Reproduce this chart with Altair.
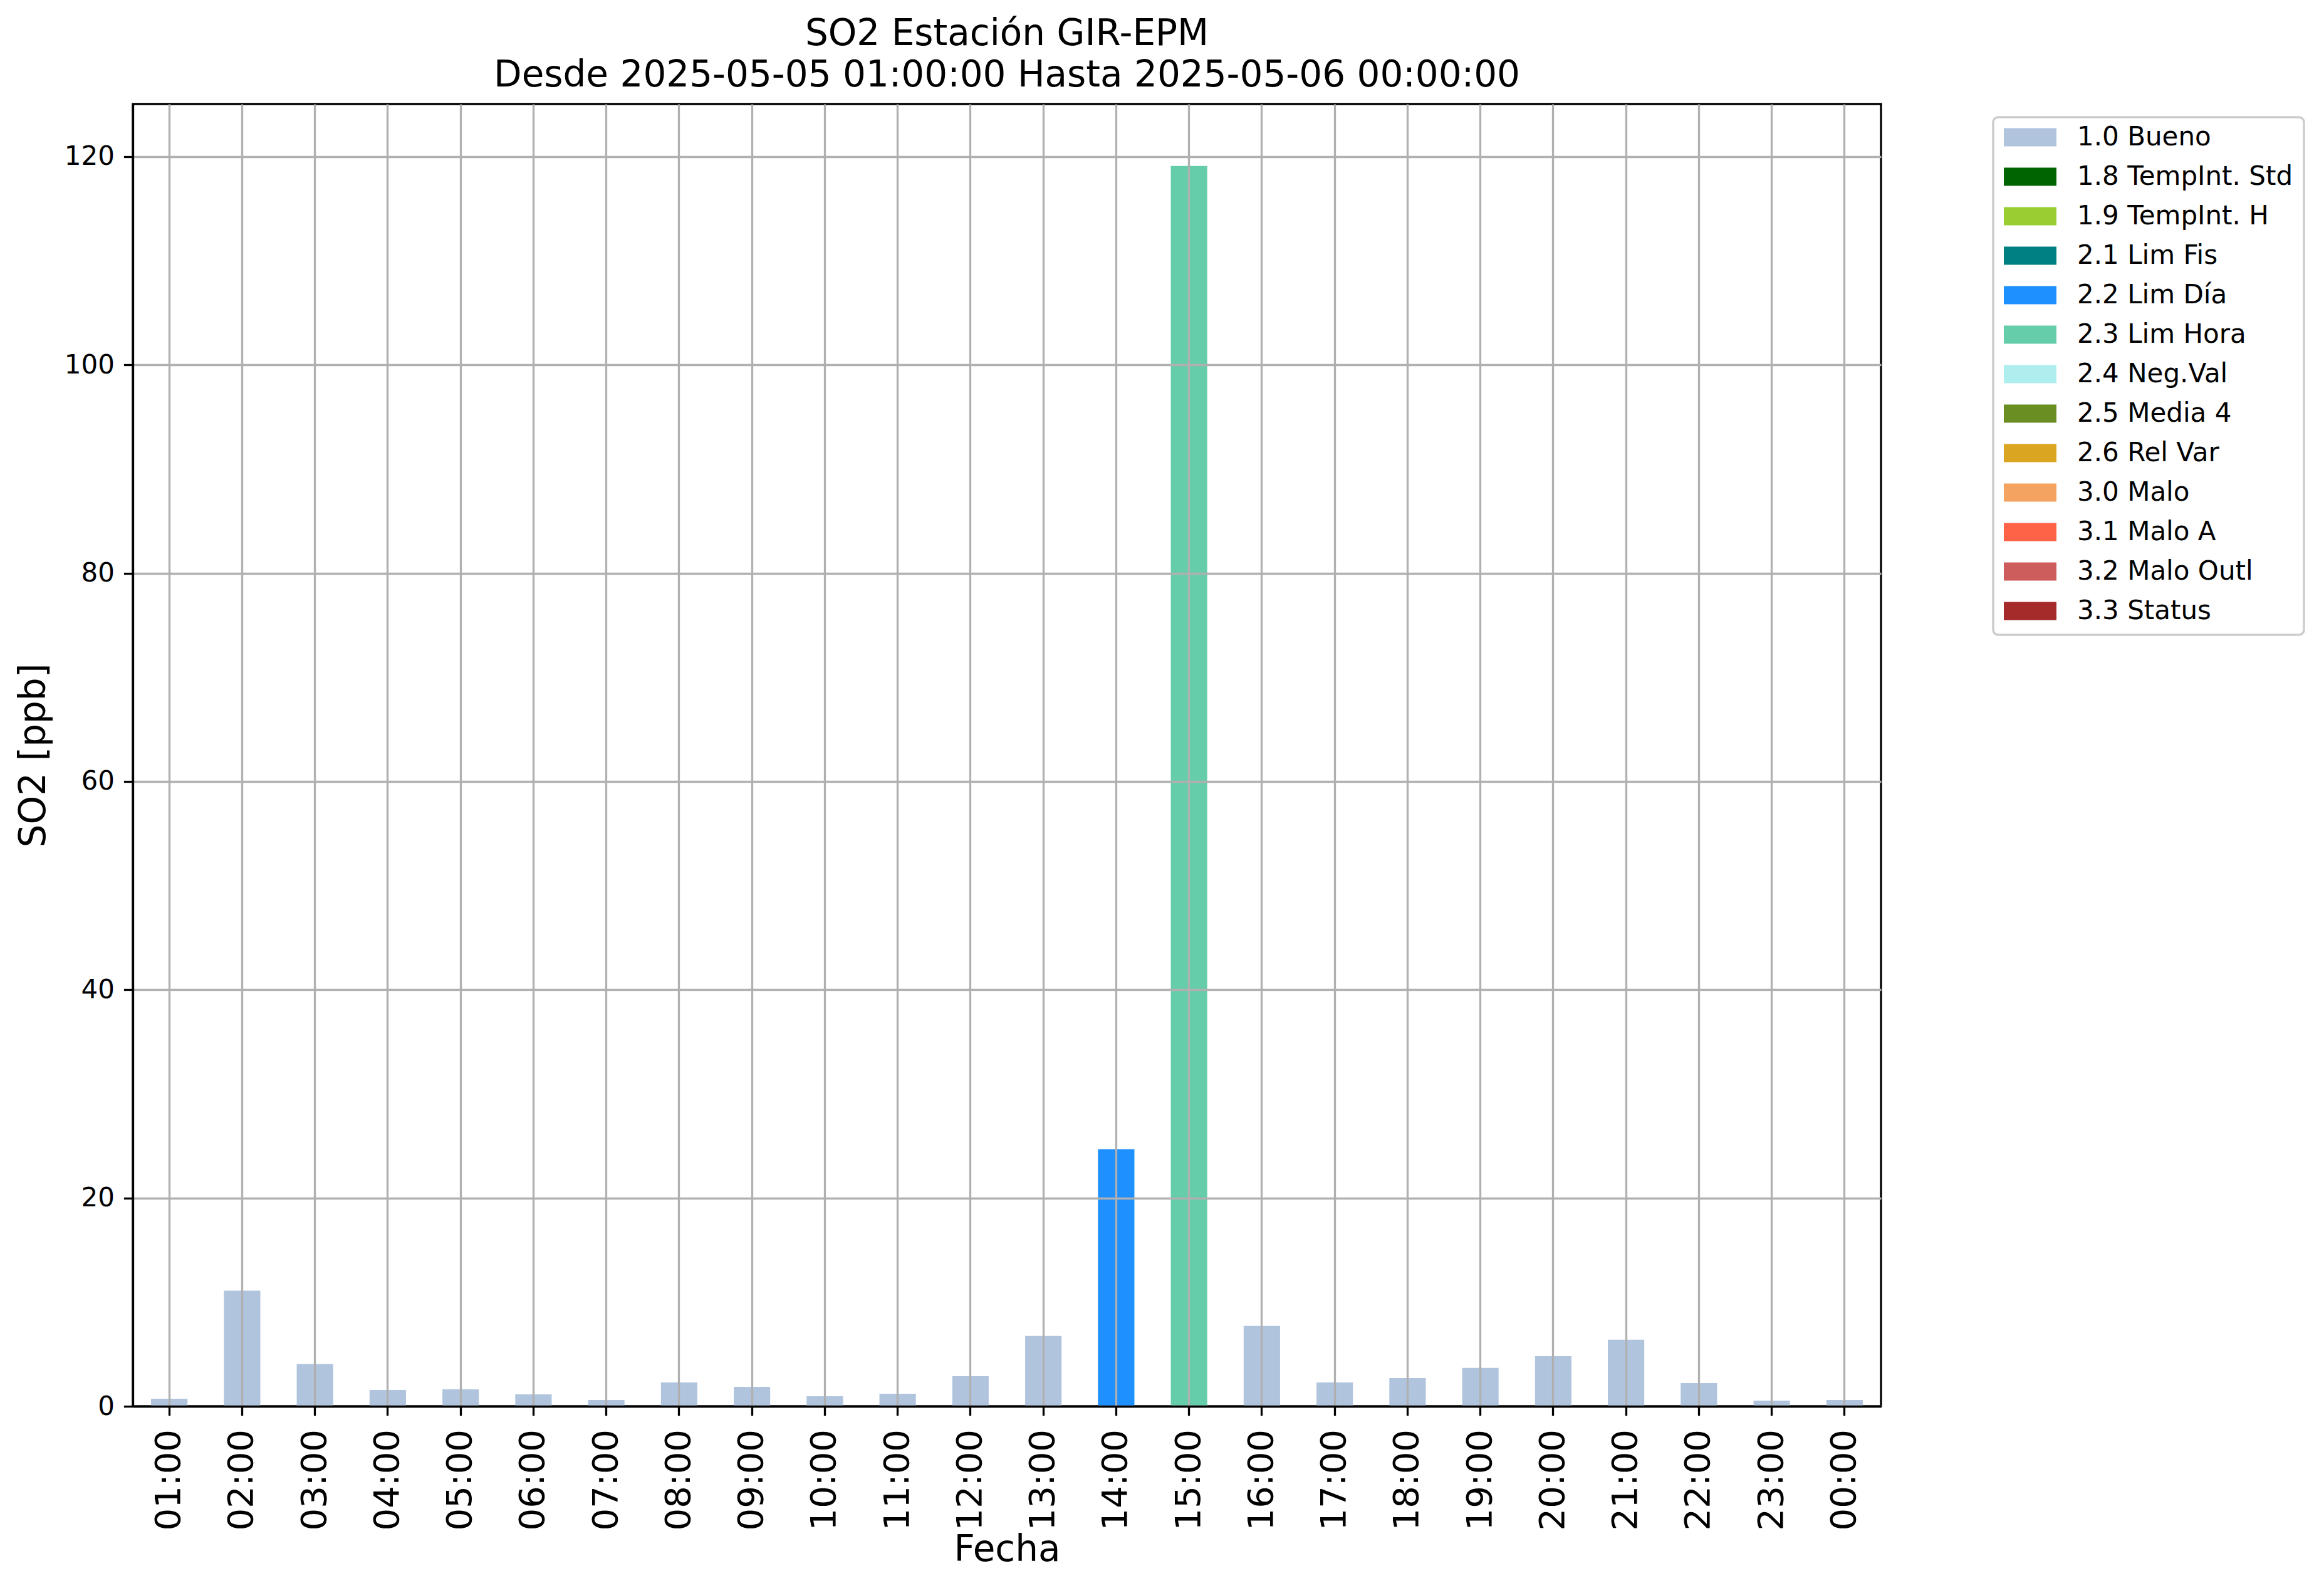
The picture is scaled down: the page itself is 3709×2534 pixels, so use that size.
import altair as alt
import pandas as pd

hours = ["01:00", "02:00", "03:00", "04:00", "05:00", "06:00", "07:00", "08:00",
         "09:00", "10:00", "11:00", "12:00", "13:00", "14:00", "15:00", "16:00",
         "17:00", "18:00", "19:00", "20:00", "21:00", "22:00", "23:00", "00:00"]
values = [0.72, 11.1, 4.04, 1.57, 1.63, 1.15, 0.60, 2.29, 1.87, 0.96, 1.21, 2.89,
          6.75, 24.67, 119.1, 7.72, 2.29, 2.71, 3.68, 4.82, 6.39, 2.23, 0.54, 0.60]
flags = ["1.0 Bueno"] * 13 + ["2.2 Lim Día", "2.3 Lim Hora"] + ["1.0 Bueno"] * 9

categories = ["1.0 Bueno", "1.8 TempInt. Std", "1.9 TempInt. H", "2.1 Lim Fis",
              "2.2 Lim Día", "2.3 Lim Hora", "2.4 Neg.Val", "2.5 Media 4",
              "2.6 Rel Var", "3.0 Malo", "3.1 Malo A", "3.2 Malo Outl", "3.3 Status"]
colors = ["#b0c4de", "#006400", "#9acd32", "#008080", "#1e90ff", "#66cdaa",
          "#afeeee", "#6b8e23", "#daa520", "#f4a460", "#ff6347", "#cd5c5c", "#a52a2a"]

df = pd.DataFrame({"Fecha": hours, "SO2": values, "Flag": flags})

FONT = "DejaVu Sans"
W, H = 2790, 2078

chart = alt.Chart(df).mark_bar().encode(
    x=alt.X("Fecha:N", sort=None,
            scale=alt.Scale(paddingInner=0.5, paddingOuter=0.25),
            axis=alt.Axis(title="Fecha", labelAngle=270, labelFontSize=56,
                          labelPadding=22, grid=True, bandPosition=0.5,
                          titleFontSize=58, titleFontWeight="normal",
                          titleX=W / 2, titleY=246, titleBaseline="alphabetic",
                          titleAlign="center", zindex=1)),
    y=alt.Y("SO2:Q", scale=alt.Scale(domain=[0, 125.05], nice=False, zero=True),
            axis=alt.Axis(title="SO2 [ppb]", values=[0, 20, 40, 60, 80, 100, 120],
                          labelFontSize=42, labelPadding=15,
                          titleFontSize=58, titleFontWeight="normal",
                          titleAngle=270, titleX=-141, titleY=H / 2,
                          titleAlign="center", titleBaseline="alphabetic",
                          zindex=1)),
    color=alt.Color("Flag:N",
                    scale=alt.Scale(domain=categories, range=colors),
                    legend=alt.Legend(title=None, orient="none", legendX=2969, legendY=21,
                                      symbolType="M-1,-0.345L1,-0.345L1,0.345L-1,0.345Z",
                                      symbolSize=7056, clipHeight=30, rowPadding=21,
                                      labelFontSize=42, labelFont=FONT, labelOffset=33,
                                      labelLimit=2000, padding=17,
                                      strokeColor="#cccccc",
                                      cornerRadius=8, fillColor="white",
                                      symbolStrokeWidth=0, symbolOpacity=1)),
).properties(
    width=W, height=H,
    title=alt.TitleParams(
        text=["SO2 Estación GIR-EPM", "Desde 2025-05-05 01:00:00 Hasta 2025-05-06 00:00:00"],
        fontSize=58, font=FONT, fontWeight="normal", lineHeight=66,
        anchor="middle", baseline="bottom", offset=12, dy=54, color="black"),
    autosize=alt.AutoSizeParams(type="none"),
    padding={"left": 204, "top": 158, "right": 699, "bottom": 282},
).configure_view(
    stroke="black", strokeWidth=3.3
).configure_axis(
    domainColor="black", domainWidth=3.3, tickColor="black", tickWidth=3.3,
    tickSize=14.6, gridColor="#b0b0b0", gridWidth=3.3, labelColor="black",
    titleColor="black", labelFont=FONT, titleFont=FONT
).configure_legend(
    strokeWidth=3.5
)

chart.save("out.html", embed_options={"renderer": "svg", "actions": False})
